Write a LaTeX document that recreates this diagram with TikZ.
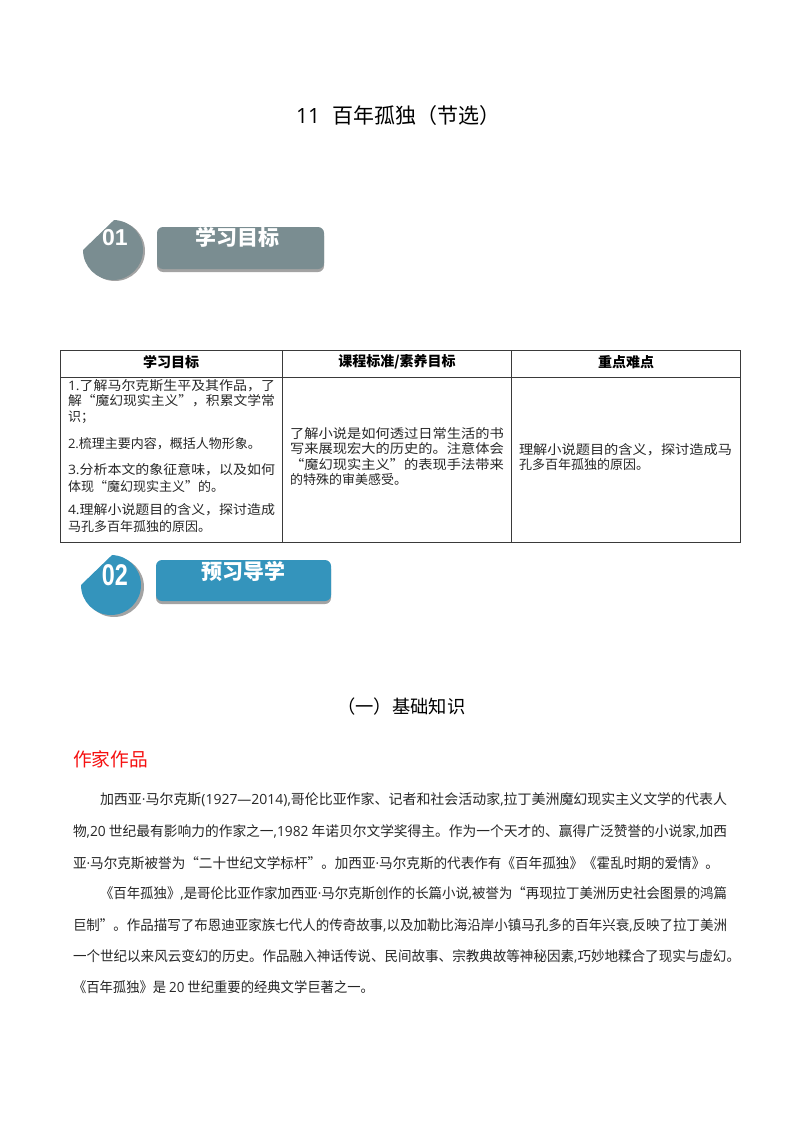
\documentclass[tikz,border=0pt]{standalone}
\usepackage{graphicx}
\usepackage{fontspec}
\setmainfont{Noto Sans CJK SC}
\newfontfamily\latfont{Open Sans}
\newfontfamily\badgefont{Liberation Sans}
\definecolor{graybadge}{HTML}{7A8D91}
\definecolor{bluebadge}{HTML}{3494BC}
\definecolor{badgeshade}{HTML}{A3A3A3}
\definecolor{redhead}{HTML}{F51010}
\definecolor{inktext}{HTML}{262626}
\definecolor{gridline}{HTML}{3A3A3A}
\newcommand{\fitw}[2]{\resizebox{#1pt}{\height}{#2}}
\newcommand{\la}[1]{{\latfont #1}}
\newcommand{\dt}{{\latfont ·}}
\tikzset{
  bodyline/.style={anchor=west, inner sep=0pt, outer sep=0pt, text=inktext, font=\fontsize{14}{16}\selectfont},
  celltxt/.style={anchor=west, inner sep=0pt, outer sep=0pt, text=inktext, font=\fontsize{13}{15}\selectfont},
  headtxt/.style={inner sep=0pt, outer sep=0pt, text=black, font=\fontsize{14}{16}\selectfont\bfseries},
  badgetxt/.style={inner sep=0pt, outer sep=0pt, text=white, font=\fontsize{21}{23}\selectfont\bfseries},
  gridrule/.style={draw=gridline, line width=0.9pt}
}
\begin{document}
\begin{tikzpicture}[x=1pt,y=-1pt]
      \useasboundingbox (0,0) rectangle (800,1132);
      \node[anchor=west, inner sep=0pt, text=black, font=\fontsize{21}{23}\selectfont] (title) at (296,116) {\la{11}\hspace{12pt}百年孤独（节选）};

      \fill[badgeshade] (85,251) arc[start angle=180,end angle=448,radius=30pt] -- cycle;
      \fill[graybadge] (83,250) arc[start angle=180,end angle=448,radius=30pt] -- cycle;
      \node[inner sep=0pt, text=white, font=\badgefont\fontsize{23}{25}\selectfont\bfseries] (numa) at (115,238) {01};
      \fill[badgeshade, rounded corners=6pt] (157,230) rectangle (324,272);
      \fill[graybadge, rounded corners=6pt] (157,227) rectangle (324,269);
      \node[badgetxt] (heada) at (237,237) {学习目标};

      \draw[gridrule] (60,350) rectangle (740,542);
      \draw[gridrule] (60,377) -- (740,377);
      \draw[gridrule] (282,350) -- (282,542);
      \draw[gridrule] (511,350) -- (511,542);
      \node[headtxt] (hone) at (171,362) {学习目标};
      \node[headtxt] (htwo) at (397,362) {课程标准/素养目标};
      \node[headtxt] (hthree) at (626,362) {重点难点};

      \node[celltxt] (aone) at (68,386) {\fitw{207}{\la{1.}了解马尔克斯生平及其作品，了}};
      \node[celltxt] (atwo) at (68,401) {\fitw{207}{解“魔幻现实主义”，积累文学常}};
      \node[celltxt] (athree) at (68,417) {识；};
      \node[celltxt] (afour) at (68,444) {\la{2.}梳理主要内容，概括人物形象。};
      \node[celltxt] (afive) at (68,470) {\fitw{207}{\la{3.}分析本文的象征意味，以及如何}};
      \node[celltxt] (asix) at (68,487) {体现“魔幻现实主义”的。};
      \node[celltxt] (aseven) at (68,510) {\fitw{207}{\la{4.}理解小说题目的含义，探讨造成}};
      \node[celltxt] (aeight) at (68,527) {马孔多百年孤独的原因。};

      \node[celltxt] (bone) at (290,434) {\fitw{214}{了解小说是如何透过日常生活的书}};
      \node[celltxt] (btwo) at (290,449) {\fitw{214}{写来展现宏大的历史的。注意体会}};
      \node[celltxt] (bthree) at (290,465) {\fitw{214}{“魔幻现实主义”的表现手法带来}};
      \node[celltxt] (bfour) at (290,480) {的特殊的审美感受。};

      \node[celltxt] (cone) at (519,450) {\fitw{213}{理解小说题目的含义，探讨造成马}};
      \node[celltxt] (ctwo) at (519,465) {孔多百年孤独的原因。};

      \fill[badgeshade] (84,587) arc[start angle=180,end angle=448,radius=30pt] -- cycle;
      \fill[bluebadge] (81,585) arc[start angle=180,end angle=448,radius=30pt] -- cycle;
      \node[inner sep=0pt, text=white, xscale=0.78, font=\badgefont\fontsize{30}{32}\selectfont\bfseries] (numb) at (115,575) {02};
      \fill[badgeshade, rounded corners=6pt] (156,563) rectangle (331,604);
      \fill[bluebadge, rounded corners=6pt] (156,560) rectangle (331,601);
      \node[badgetxt] (headb) at (243,571) {预习导学};

      \node[anchor=west, inner sep=0pt, text=black, font=\fontsize{18.3}{21}\selectfont] (basic) at (337,707) {（一）基础知识};
      \node[anchor=west, inner sep=0pt, text=redhead, font=\fontsize{18.7}{21}\selectfont] (author) at (73,759) {作家作品};

      \node[bodyline] (lone) at (100,800) {\fitw{627}{加西亚\dt 马尔克斯\la{(1927—2014),}哥伦比亚作家、记者和社会活动家\la{,}拉丁美洲魔幻现实主义文学的代表人}};
      \node[bodyline] (ltwo) at (73,831) {\fitw{654}{物\la{,20} 世纪最有影响力的作家之一\la{,1982} 年诺贝尔文学奖得主。作为一个天才的、赢得广泛赞誉的小说家\la{,}加西}};
      \node[bodyline] (lthree) at (73,863) {\fitw{646}{亚\dt 马尔克斯被誉为“二十世纪文学标杆”。加西亚\dt 马尔克斯的代表作有《百年孤独》《霍乱时期的爱情》。}};
      \node[bodyline] (lfour) at (100,893) {\fitw{627}{《百年孤独》\la{,}是哥伦比亚作家加西亚\dt 马尔克斯创作的长篇小说\la{,}被誉为“再现拉丁美洲历史社会图景的鸿篇}};
      \node[bodyline] (lfive) at (73,925) {\fitw{654}{巨制”。作品描写了布恩迪亚家族七代人的传奇故事\la{,}以及加勒比海沿岸小镇马孔多的百年兴衰\la{,}反映了拉丁美洲}};
      \node[bodyline] (lsix) at (73,956) {\fitw{667}{一个世纪以来风云变幻的历史。作品融入神话传说、民间故事、宗教典故等神秘因素\la{,}巧妙地糅合了现实与虚幻。}};
      \node[bodyline] (lseven) at (73,987) {\fitw{301}{《百年孤独》是 \la{20} 世纪重要的经典文学巨著之一。}};
\end{tikzpicture}
\end{document}
